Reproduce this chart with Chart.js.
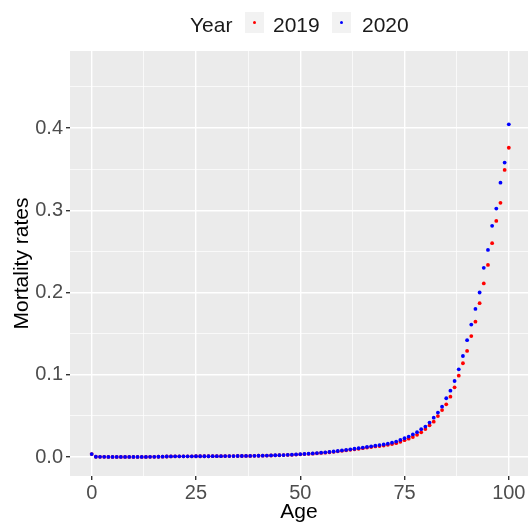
<!DOCTYPE html>
<html>
<head>
<meta charset="utf-8">
<script src="https://cdn.jsdelivr.net/npm/chart.js@4/dist/chart.umd.min.js"></script>
<style>
  html, body { margin: 0; padding: 0; background: #fff; overflow: hidden; }
  #wrap { position: relative; width: 528px; height: 525px; font-family: "Liberation Sans", Arial, sans-serif; }
  #chart-box { position: absolute; left: 0; top: 0; width: 528px; height: 525px; }
  .lg { position: absolute; font-size: 21px; line-height: 21px; color: #1a1a1a; white-space: nowrap; }
  .key { position: absolute; top: 12px; width: 19px; height: 21px; background: #f2f2f2; }
  .key span { position: absolute; left: 8px; top: 9px; width: 3px; height: 3px; border-radius: 50%; }
</style>
</head>
<body>
<div id="wrap">
  <div id="chart-box"><canvas id="mort-chart"></canvas></div>
  <div class="lg" style="left:190px; top:14px;">Year</div>
  <div class="key" style="left:245px;"><span style="background:#ff0000"></span></div>
  <div class="lg" style="left:273px; top:14px;">2019</div>
  <div class="key" style="left:332px;"><span style="background:#0000ff"></span></div>
  <div class="lg" style="left:362px; top:14px;">2020</div>
</div>
<script>
// ages 0..100
const ages = [
    0, 1, 2, 3, 4, 5, 6, 7, 8, 9,
    10, 11, 12, 13, 14, 15, 16, 17, 18, 19,
    20, 21, 22, 23, 24, 25, 26, 27, 28, 29,
    30, 31, 32, 33, 34, 35, 36, 37, 38, 39,
    40, 41, 42, 43, 44, 45, 46, 47, 48, 49,
    50, 51, 52, 53, 54, 55, 56, 57, 58, 59,
    60, 61, 62, 63, 64, 65, 66, 67, 68, 69,
    70, 71, 72, 73, 74, 75, 76, 77, 78, 79,
    80, 81, 82, 83, 84, 85, 86, 87, 88, 89,
    90, 91, 92, 93, 94, 95, 96, 97, 98, 99,
    100
];

// 2019年の死亡率
const rates2019 = [
    0.0036, 0.0003, 0.0002, 0.0002, 0.0001, 0.0001, 0.0001, 0.0001, 0.0001, 0.0001,
    0.0001, 0.0001, 0.0001, 0.0001, 0.0002, 0.0002, 0.0003, 0.0004, 0.0006, 0.0007,
    0.0008, 0.0008, 0.0008, 0.0008, 0.0008, 0.0009, 0.0009, 0.0009, 0.0009, 0.0010,
    0.0010, 0.0010, 0.0011, 0.0011, 0.0011, 0.0012, 0.0012, 0.0013, 0.0013, 0.0014,
    0.0015, 0.0016, 0.0017, 0.0018, 0.0020, 0.0021, 0.0023, 0.0025, 0.0027, 0.0029,
    0.0032, 0.0035, 0.0038, 0.0041, 0.0045, 0.0049, 0.0053, 0.0058, 0.0063, 0.0069,
    0.0075, 0.0081, 0.0087, 0.0093, 0.0100, 0.0107, 0.0114, 0.0121, 0.0128, 0.0134,
    0.0140, 0.0148, 0.0157, 0.0168, 0.0185, 0.0205, 0.0223, 0.0243, 0.0270, 0.0300,
    0.0340, 0.0385, 0.0430, 0.0498, 0.0571, 0.0640, 0.0733, 0.0847, 0.0989, 0.1140,
    0.1290, 0.1470, 0.1645, 0.1870, 0.2110, 0.2335, 0.2600, 0.2870, 0.3090, 0.3490,
    0.3760
];

// 2020年の死亡率
const rates2020 = [
    0.0036, 0.0003, 0.0002, 0.0002, 0.0001, 0.0001, 0.0001, 0.0001, 0.0001, 0.0001,
    0.0001, 0.0001, 0.0001, 0.0001, 0.0002, 0.0002, 0.0003, 0.0004, 0.0006, 0.0007,
    0.0008, 0.0008, 0.0008, 0.0008, 0.0008, 0.0009, 0.0009, 0.0009, 0.0009, 0.0010,
    0.0010, 0.0010, 0.0011, 0.0011, 0.0011, 0.0012, 0.0012, 0.0013, 0.0013, 0.0014,
    0.0015, 0.0016, 0.0017, 0.0019, 0.0021, 0.0022, 0.0024, 0.0026, 0.0028, 0.0031,
    0.0034, 0.0037, 0.0040, 0.0044, 0.0048, 0.0052, 0.0057, 0.0062, 0.0067, 0.0073,
    0.0080, 0.0086, 0.0093, 0.0100, 0.0107, 0.0115, 0.0122, 0.0130, 0.0138, 0.0145,
    0.0152, 0.0162, 0.0174, 0.0188, 0.0208, 0.0228, 0.0248, 0.0275, 0.0302, 0.0338,
    0.0370, 0.0418, 0.0478, 0.0540, 0.0612, 0.0714, 0.0806, 0.0924, 0.1066, 0.1228,
    0.1420, 0.1610, 0.1800, 0.2000, 0.2300, 0.2517, 0.2810, 0.3020, 0.3335, 0.3580,
    0.4045
];

const xTicks = [0, 12.5, 25, 37.5, 50, 62.5, 75, 87.5, 100];
const xLabels = ['0', '', '25', '', '50', '', '75', '', '100'];
const yTicks = [0, 0.05, 0.1, 0.15, 0.2, 0.25, 0.3, 0.35, 0.4, 0.45];
const yLabels = ['0.0', '', '0.1', '', '0.2', '', '0.3', '', '0.4', ''];

// ggplot風の灰色パネル背景
const panelBg = {
    id: 'panelBg',
    beforeDraw(chart) {
        const a = chart.chartArea;
        const ctx = chart.ctx;
        ctx.save();
        ctx.fillStyle = '#ebebeb';
        ctx.fillRect(a.left, a.top, a.right - a.left, a.bottom - a.top);
        ctx.restore();
    }
};

function toPoints(values) {
    return ages.map((a, i) => ({ x: a, y: values[i] }));
}

const tickFont = { family: 'Liberation Sans', size: 20 };
const titleFont = { family: 'Liberation Sans', size: 21 };

const ctx = document.getElementById('mort-chart').getContext('2d');
new Chart(ctx, {
    type: 'scatter',
    data: {
        datasets: [
            {
                label: '2019',
                data: toPoints(rates2019),
                backgroundColor: '#ff0000',
                pointRadius: 1.9,
                pointBorderWidth: 0,
                order: 1
            },
            {
                label: '2020',
                data: toPoints(rates2020),
                backgroundColor: '#0000ff',
                pointRadius: 1.9,
                pointBorderWidth: 0,
                order: 0
            }
        ]
    },
    options: {
        responsive: true,
        maintainAspectRatio: false,
        animation: false,
        devicePixelRatio: 1,
        layout: { autoPadding: false, padding: { top: 51, right: 0, left: 0, bottom: 0 } },
        plugins: {
            legend: { display: false },
            tooltip: { enabled: false }
        },
        scales: {
            x: {
                type: 'linear',
                min: -5.2,
                max: 104.6,
                afterBuildTicks: (scale) => { scale.ticks = xTicks.map(v => ({ value: v })); },
                afterFit: (scale) => {
                    scale.height = 49;
                    scale.paddingLeft = 0;
                    scale.paddingRight = 0;
                },
                border: { display: false },
                grid: {
                    color: '#ffffff',
                    lineWidth: (c) => (xLabels[c.index] !== '' ? 1.4 : 0.7),
                    tickColor: (c) => (xLabels[c.index] !== '' ? '#333333' : 'rgba(0,0,0,0)'),
                    tickLength: 4
                },
                ticks: {
                    autoSkip: false,
                    maxRotation: 0,
                    padding: 1,
                    color: '#4d4d4d',
                    font: tickFont,
                    callback: (v, i) => xLabels[i]
                },
                title: {
                    display: true,
                    text: 'Age',
                    color: '#000000',
                    font: titleFont,
                    padding: { top: 2, bottom: 0 }
                }
            },
            y: {
                type: 'linear',
                min: -0.0231,
                max: 0.4936,
                afterBuildTicks: (scale) => { scale.ticks = yTicks.map(v => ({ value: v })); },
                afterFit: (scale) => { scale.width = 70; },
                border: { display: false },
                grid: {
                    color: '#ffffff',
                    lineWidth: (c) => (yLabels[c.index] !== '' ? 1.4 : 0.7),
                    tickColor: (c) => (yLabels[c.index] !== '' ? '#333333' : 'rgba(0,0,0,0)'),
                    tickLength: 4
                },
                ticks: {
                    autoSkip: false,
                    padding: 3,
                    color: '#4d4d4d',
                    font: tickFont,
                    callback: (v, i) => yLabels[i]
                },
                title: {
                    display: true,
                    text: 'Mortality rates',
                    color: '#000000',
                    font: titleFont,
                    padding: { top: 10, bottom: 0 }
                }
            }
        }
    },
    plugins: [panelBg]
});
</script>
</body>
</html>
